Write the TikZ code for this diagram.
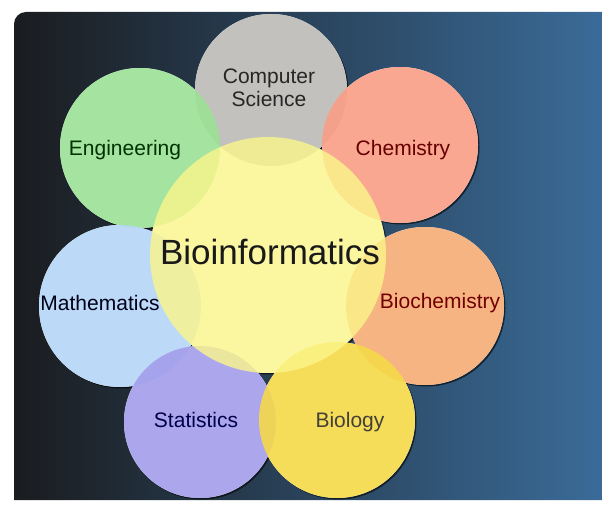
\documentclass[tikz,border=0pt]{standalone}
\usepackage{fontspec}
\setmainfont{Liberation Sans}
\pgfdeclarelayer{ground}
\pgfdeclarelayer{under}
\pgfsetlayers{ground,under,main}
\definecolor{bgLeft}{HTML}{1A1C1F}
\definecolor{bgMid}{HTML}{22374C}
\definecolor{bgRight}{HTML}{3A6B98}
\definecolor{csGrey}{HTML}{BDBBB6}
\definecolor{engGreen}{HTML}{9BE296}
\definecolor{chemRed}{HTML}{F99E86}
\definecolor{mathBlue}{HTML}{B5D7F7}
\definecolor{biochOrange}{HTML}{F7AC76}
\definecolor{statViolet}{HTML}{A49EEC}
\definecolor{biolYellow}{HTML}{F5D948}
\definecolor{bioinfYellow}{HTML}{FBF68A}
\begin{document}
\begin{tikzpicture}[x=1pt,y=-1pt,
    field/.style={circle, inner sep=0pt, minimum size=#1, fill opacity=0.9},
    tag/.style={font=\fontsize{21}{23}\selectfont, align=center}]
      \useasboundingbox (0,0) rectangle (602,505);
      \begin{pgfonlayer}{ground}
        \shade[left color=bgLeft, middle color=bgMid, right color=bgRight]
          (14,500) [rounded corners=12pt] -- (14,12) [sharp corners] -- (602,12)
          -- (602,500) -- cycle;
      \end{pgfonlayer}
      \draw
        (271,90) node[field=152pt, fill=csGrey] (cs){}
        (140,148) node[field=160pt, fill=engGreen] (eng){}
        (400,145) node[field=156pt, fill=chemRed] (chem){}
        (120,306) node[field=162pt, fill=mathBlue] (math){}
        (425,306) node[field=158pt, fill=biochOrange] (bioch){}
        (200,422) node[field=152pt, fill=statViolet] (stat){}
        (337,420) node[field=156pt, fill=biolYellow] (biol){}
        (268,255) node[field=236pt, fill=bioinfYellow, fill opacity=0.8] (bioinf){};
      % white ground and shadow under the circles
      \begin{pgfonlayer}{under}
        \foreach \n/\r in {cs/76,eng/80,chem/78,math/81,bioch/79,stat/76,biol/78,bioinf/118}
          \fill[black, opacity=0.6] ([shift={(1.5,1.5)}]\n.center) circle[radius=\r];
        \foreach \n/\r in {cs/76,eng/80,chem/78,math/81,bioch/79,stat/76,biol/78,bioinf/118}
          \fill[white] (\n.center) circle[radius=\r];
      \end{pgfonlayer}
      \begin{scope}[tag]
        \node[text=black!85] (csText) at (269,88) {Computer\\Science};
        \node[text=black!80!green] (engText) at (125,150) {Engineering};
        \node[text=red!40!black] (chemText) at (403,150) {Chemistry};
        \node[text=black!90!blue] (mathText) at (100,303) {Mathematics};
        \node[text=red!45!black] (biochText) at (440,303) {Biochemistry};
        \node[text=blue!30!black] (statText) at (196,420) {Statistics};
        \node[text=black!85!yellow] (biolText) at (350,422) {Biology};
        \node[text=black!90, font=\fontsize{35}{38}\selectfont] (bioinfText)
          at (270,252) {Bioinformatics};
      \end{scope}
    \end{tikzpicture}
\end{document}
